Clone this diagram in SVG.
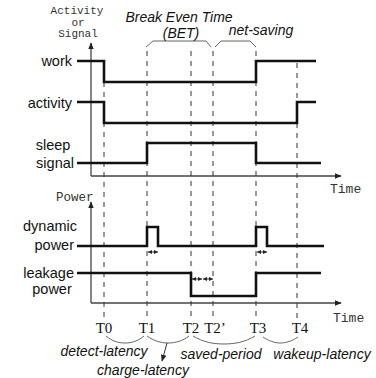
<svg xmlns="http://www.w3.org/2000/svg" width="376" height="378" viewBox="0 0 376 378">
<style>
.sig{fill:none;stroke:#111;stroke-width:2.6;stroke-linejoin:miter}
.axis{fill:none;stroke:#444;stroke-width:1.3}
.dash{fill:none;stroke:#333;stroke-width:1;stroke-dasharray:5,5}
.brace{fill:none;stroke:#666;stroke-width:1}
.lbl{font-family:"Liberation Sans",Arial,sans-serif;font-size:14.5px;fill:#111}
.it{font-family:"Liberation Sans",Arial,sans-serif;font-size:14px;font-style:italic;fill:#111}
.mono{font-family:"Liberation Mono","Courier New",monospace;fill:#333}
.t{font-family:"Liberation Serif","Times New Roman",serif;font-size:15px;fill:#111;text-anchor:middle}
.sm{fill:none;stroke:#222;stroke-width:0.9}
</style>
<defs>
<marker id="ah" viewBox="0 0 10 10" refX="9" refY="5" markerWidth="7" markerHeight="7" markerUnits="userSpaceOnUse" orient="auto"><path d="M0,1 L10,5 L0,9 Z" fill="#222"/></marker>
<marker id="sa" viewBox="0 0 10 10" refX="10" refY="5" markerWidth="4" markerHeight="4" markerUnits="userSpaceOnUse" orient="auto-start-reverse"><path d="M0,0 L10,5 L0,10 Z" fill="#222"/></marker>
</defs>
<g id="axes">
<line class="axis" x1="91" y1="176" x2="91" y2="43" marker-end="url(#ah)"/>
<line class="axis" x1="91" y1="176" x2="341" y2="176" marker-end="url(#ah)"/>
<line class="axis" x1="91" y1="303" x2="91" y2="202" marker-end="url(#ah)"/>
<line class="axis" x1="91" y1="303" x2="341" y2="303" marker-end="url(#ah)"/>
<text class="mono" font-size="11" text-anchor="middle" x="77" y="14">Activity</text>
<text class="mono" font-size="11" text-anchor="middle" x="78" y="25.5">or</text>
<text class="mono" font-size="11" text-anchor="middle" x="78" y="37">Signal</text>
<text class="mono" font-size="13" x="330" y="193">Time</text>
<text class="mono" font-size="12.5" x="56" y="201">Power</text>
<text class="mono" font-size="13" x="333" y="322">Time</text>
</g>
<g id="connectors">
<line class="dash" x1="104" y1="62" x2="104" y2="319"/>
<line class="dash" x1="147" y1="51" x2="147" y2="319"/>
<line class="dash" x1="191" y1="51" x2="191" y2="319"/>
<line class="dash" x1="213" y1="51" x2="213" y2="319"/>
<line class="dash" x1="256" y1="51" x2="256" y2="319"/>
<line class="dash" x1="297" y1="63" x2="297" y2="319"/>
<path class="brace" d="M146,47 L153,41 L206,41 L211,47"/>
<path class="brace" d="M215,47 L221,41 L250,41 L256,47"/>
<path class="brace" d="M106,336 C112,341 118,343 125,343 C132,343 138,341 144,336"/>
<path class="brace" d="M147,336 C154,341 161,343 168,343 C175,343 183,341 189,336"/>
<path class="brace" d="M193,336 C203,342 213,344 224,344 C235,344 245,342 255,336"/>
<path class="brace" d="M263,337 C269,341 275,343 280,343 C286,343 292,341 298,337"/>
<line class="sm" x1="167" y1="343" x2="162" y2="361" marker-end="url(#ah)"/>
<line class="sm" x1="148" y1="252" x2="158" y2="252" marker-start="url(#sa)" marker-end="url(#sa)"/>
<line class="sm" x1="257" y1="252" x2="267" y2="252" marker-start="url(#sa)" marker-end="url(#sa)"/>
<line class="sm" x1="192" y1="279" x2="202" y2="279" marker-start="url(#sa)" marker-end="url(#sa)"/>
<line class="sm" x1="203" y1="279" x2="213" y2="279" marker-start="url(#sa)" marker-end="url(#sa)"/>
</g>
<g id="work">
<text class="lbl" text-anchor="end" x="72" y="66">work</text>
<polyline class="sig" points="77,61 104,61 104,82 256,82 256,61 316,61"/>
</g>
<g id="activity">
<text class="lbl" text-anchor="end" x="72" y="108">activity</text>
<polyline class="sig" points="77,102 104,102 104,123 297,123 297,102 316,102"/>
</g>
<g id="sleep-signal">
<text class="lbl" text-anchor="middle" x="53" y="150">sleep</text>
<text class="lbl" text-anchor="end" x="74" y="168">signal</text>
<polyline class="sig" points="77,163 147,163 147,143 256,143 256,163 321,163"/>
</g>
<g id="dynamic-power">
<text class="lbl" text-anchor="middle" x="50" y="231">dynamic</text>
<text class="lbl" text-anchor="end" x="74" y="250">power</text>
<polyline class="sig" points="77,246 147,246 147,227 158,227 158,246 256,246 256,227 267,227 267,246 324,246"/>
</g>
<g id="leakage-power">
<text class="lbl" text-anchor="end" x="74" y="278">leakage</text>
<text class="lbl" text-anchor="middle" x="52" y="294">power</text>
<polyline class="sig" points="77,273 191,273 191,296 256,296 256,273 321,273"/>
</g>
<g id="labels">
<text class="it" text-anchor="middle" x="179" y="22">Break Even Time</text>
<text class="it" text-anchor="middle" x="181" y="38">(BET)</text>
<text class="it" text-anchor="middle" x="261" y="35">net-saving</text>
<text class="t" x="104" y="333">T0</text>
<text class="t" x="147" y="333">T1</text>
<text class="t" x="191" y="333">T2</text>
<text class="t" x="215" y="333">T2’</text>
<text class="t" x="258" y="333">T3</text>
<text class="t" x="300" y="333">T4</text>
<text class="it" text-anchor="middle" x="104" y="356">detect-latency</text>
<text class="it" text-anchor="middle" x="221" y="359">saved-period</text>
<text class="it" text-anchor="middle" x="322" y="359">wakeup-latency</text>
<text class="it" text-anchor="middle" x="143" y="375">charge-latency</text>
</g>
</svg>
